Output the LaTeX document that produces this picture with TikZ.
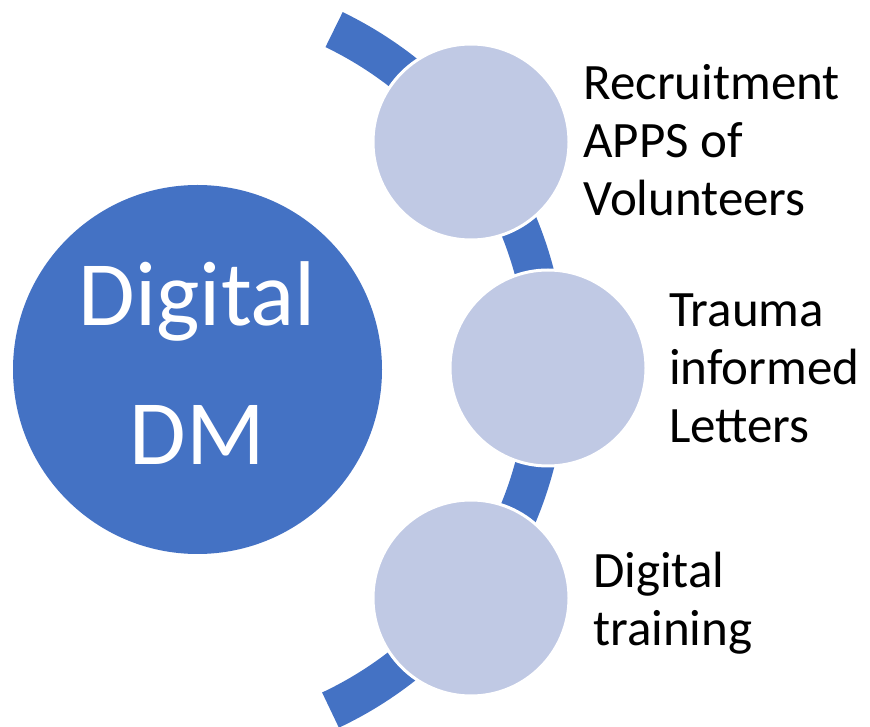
\documentclass[tikz,border=0pt]{standalone}
\usepackage{fontspec}
\setmainfont{Carlito}
\definecolor{dmblue}{RGB}{68,114,196}
\definecolor{dmlight}{RGB}{192,201,228}
\begin{document}
\begin{tikzpicture}[x=1pt,y=1pt,
  hub/.style={circle, fill=dmblue, minimum size=369pt, inner sep=0pt},
  item/.style={circle, fill=dmlight, draw=white, line width=3pt, minimum size=196pt, inner sep=0pt},
  itemtext/.style={anchor=base west, align=left, inner sep=0pt, font=\fontsize{51}{58}\selectfont}]
\useasboundingbox (0,0) rectangle (870,726);

% band behind the items
\path[draw=dmblue, line width=39pt] (170,357) ++(64.2:377) arc[start angle=64.2, end angle=-64.8, radius=377];

\node[hub] (dm) at (197.5,356.5) {};
\node[anchor=base, align=center, inner sep=0pt, text=white, font=\fontsize{92}{139}\selectfont] (dmtext) at (197.5,261) {Digital\\DM};

\node[item] (apps) at (471,584) {};
\node[item] (letters) at (548,358) {};
\node[item] (training) at (471,128) {};

% anchors sit on the last line
\node[itemtext] (appstext) at (583,510) {Recruitment\\APPS of\\Volunteers};
\node[itemtext] (letterstext) at (669,283) {Trauma\\informed\\Letters};
\node[itemtext] (trainingtext) at (593,81) {Digital\\training};
\end{tikzpicture}
\end{document}
